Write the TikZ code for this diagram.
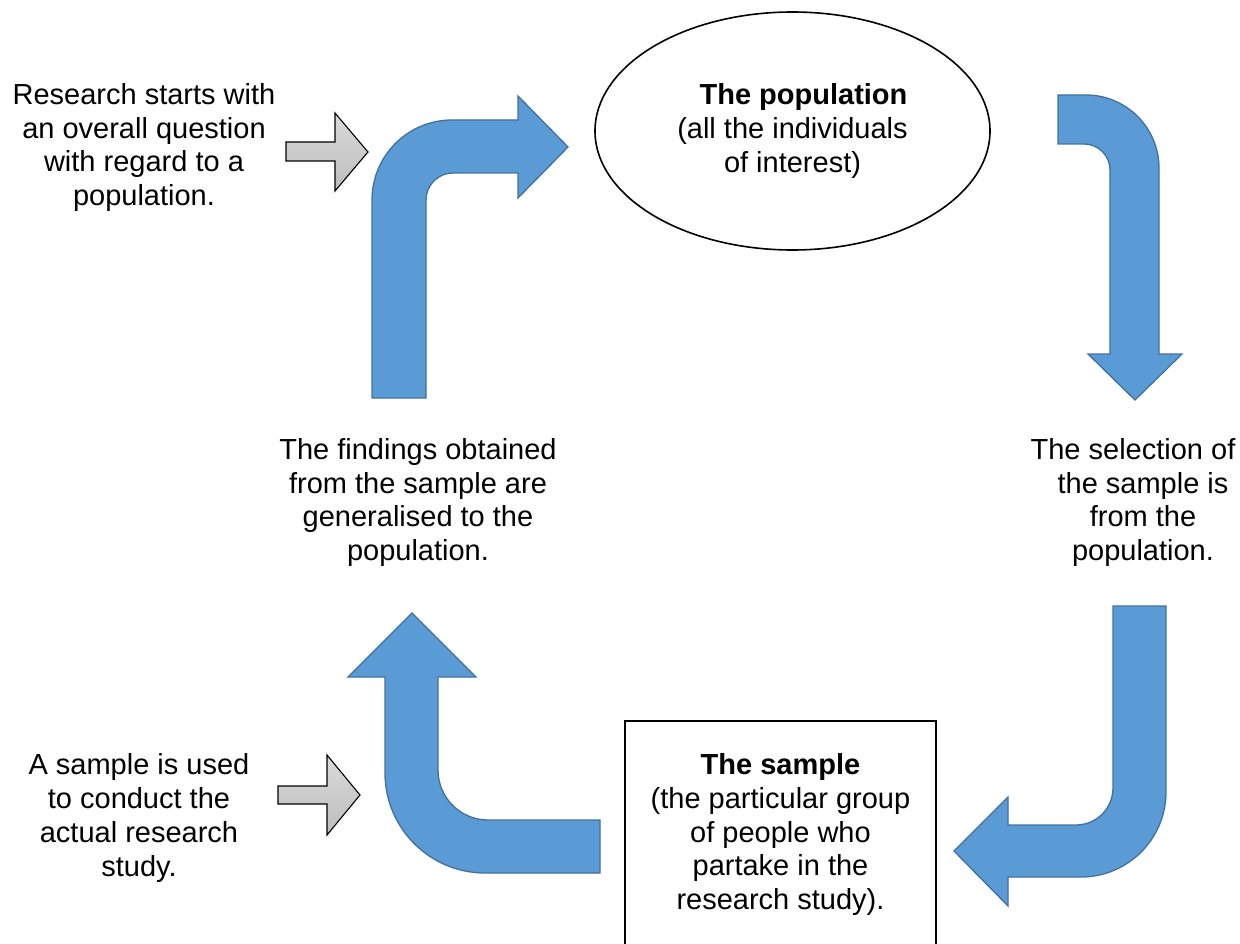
\documentclass[tikz,border=0pt]{standalone}
\usepackage{fontspec}
\setmainfont{Liberation Sans}
\usetikzlibrary{shapes.geometric}
\definecolor{arrowblue}{HTML}{5B9BD5}
\definecolor{arrowedge}{HTML}{41719C}
\definecolor{greytop}{HTML}{DADADA}
\definecolor{greybot}{HTML}{BDBDBD}
\begin{document}
\begin{tikzpicture}[x=1pt,y=-1pt,
  bent/.style={fill=arrowblue,draw=arrowedge,line width=1.3pt,line join=miter},
  pointer/.style={top color=greytop,bottom color=greybot,draw=black,line width=1.1pt},
  caption/.style={align=center,font=\fontsize{29}{33.7}\selectfont,inner sep=0pt}]
\useasboundingbox (0,0) rectangle (1240,944);

% block arrows of the cycle
\draw[bent] (372,398) -- (372,200) .. controls (372,155.8) and (407.8,120) .. (452,120)
  -- (518,120) -- (518,96) -- (568,147) -- (518,198) -- (518,173) -- (453,173)
  .. controls (438.1,173) and (426,185.1) .. (426,200) -- (426,398) -- cycle;
\draw[bent] (1058,95) -- (1086,95) .. controls (1126.3,95) and (1159,127.7) .. (1159,168)
  -- (1159,354) -- (1182,354) -- (1135,400) -- (1088,354) -- (1110,354) -- (1110,170)
  .. controls (1110,155.6) and (1098.4,144) .. (1084,144) -- (1058,144) -- cycle;
\draw[bent] (1113,606) -- (1166,606) -- (1166,792) .. controls (1166,838.9) and (1127.9,877) .. (1081,877)
  -- (1008,877) -- (1008,906) -- (954,851) -- (1008,797) -- (1008,825) -- (1076,825)
  .. controls (1096.4,825) and (1113,808.4) .. (1113,788) -- cycle;
\draw[bent] (600,873) -- (485,873) .. controls (429.8,873) and (385,828.2) .. (385,773)
  -- (385,677) -- (348,677) -- (412,613) -- (476,677) -- (438,677) -- (438,770)
  .. controls (438,797.6) and (460.4,820) .. (488,820) -- (600,820) -- cycle;

% small grey pointers
\draw[pointer] (286,142) -- (335,142) -- (335,113) -- (368,152) -- (335,191) -- (335,161) -- (286,161) -- cycle;
\draw[pointer] (278,786) -- (327,786) -- (327,755) -- (360,795) -- (327,835) -- (327,804) -- (278,804) -- cycle;

% population and sample
\node[ellipse,draw,line width=1.6pt,minimum width=395,minimum height=238,caption] (population) at (792.5,131)
  {\hspace*{22pt}\textbf{The population}\\(all the individuals\\of interest)};
\node[rectangle,draw,line width=2.2pt,minimum width=311,minimum height=227,caption] (sample) at (780.5,834.5)
  {\textbf{The sample}\\(the particular group\\of people who\\partake in the\\research study).};

% explanatory texts
\node[caption] (question) at (144,147.5) {Research starts with\\an overall question\\with regard to a\\population.};
\node[caption] (findings) at (418,502.5) {The findings obtained\\from the sample are\\generalised to the\\population.};
\node[caption] (selection) at (1143,502.5) {The selection of\hspace*{20pt}\\the sample is\hspace*{32pt}\\from the\\population.};
\node[caption] (usage) at (139,818) {A sample is used\\to conduct the\\actual research\\study.};
\end{tikzpicture}
\end{document}
